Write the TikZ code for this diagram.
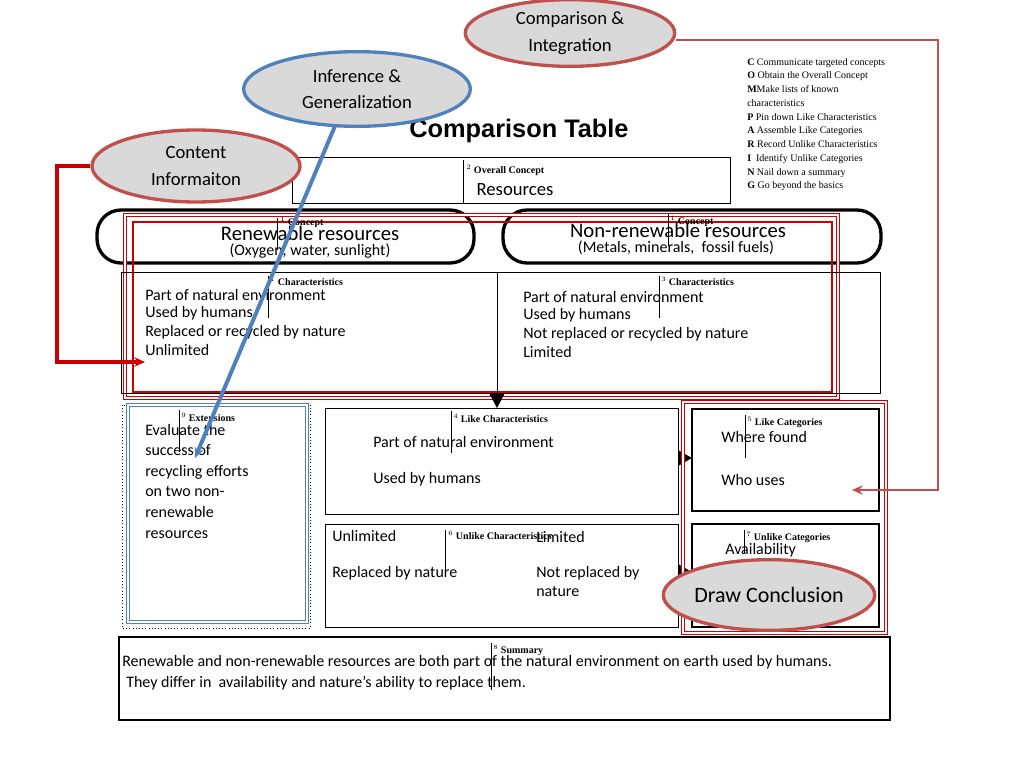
\documentclass[tikz,border=0pt]{standalone}
\usepackage{fontspec}
\setmainfont{Carlito}
\newfontfamily\seriffont{Liberation Serif}
\newfontfamily\arialfont{Liberation Sans}
\usetikzlibrary{positioning,arrows.meta,shapes.geometric}
\definecolor{ovalred}{RGB}{192,80,77}
\definecolor{ovalblue}{RGB}{79,129,189}
\definecolor{ovalgray}{RGB}{217,217,217}
\definecolor{boxred}{RGB}{204,0,0}
\tikzset{
  oval/.style = {ellipse, draw, line width=2.5pt, fill=ovalgray, inner sep=0pt, align=center, font=\fontsize{14}{20}\selectfont},
  body/.style = {font=\fontsize{12}{14}\selectfont, anchor=west, inner sep=0pt},
  tag/.style = {font=\seriffont\fontsize{7.5}{9}\selectfont, anchor=west, inner sep=0pt},
  tick/.style = {thin},
  redframe/.style = {draw=boxred, double=white, double distance=1.5pt, line width=0.8pt},
  arrow/.style = {line width=2pt, -{Stealth[length=8pt,width=7pt]}}
}
\begin{document}
\begin{tikzpicture}[x=0.75pt,y=-0.75pt]
\useasboundingbox (0,0) rectangle (1024,768);
% title and overall concept
\node [font=\arialfont\bfseries\fontsize{19}{22}\selectfont] (title) at (519,131) {Comparison Table};
\draw (292,157) rectangle (730,203);
\draw [tick] (463,160) -- (463,203);
\node [tag] (overall) at (466,170) {$^2$\ \textbf{Overall Concept}};
\node [font=\fontsize{14}{16}\selectfont] (res) at (515,190) {Resources};

% concepts
\draw [line width=2.5pt, rounded corners=18pt] (97,210) rectangle (474,263);
\draw [line width=2.5pt, rounded corners=18pt] (503,210) rectangle (881,263);
\draw [redframe] (125,215) rectangle (838,398);
\draw [draw=boxred, line width=0.8pt] (133,222) rectangle (832,392);
\node [font=\fontsize{15.5}{18}\selectfont] (ren) at (310,233) {Renewable resources};
\node [font=\fontsize{12}{14}\selectfont] (renex) at (310,251) {(Oxygen, water, sunlight)};
\node [font=\fontsize{15.5}{18}\selectfont] (non) at (678,230) {Non-renewable resources};
\node [font=\fontsize{12}{14}\selectfont] (nonex) at (676,248) {(Metals, minerals,\ \ fossil fuels)};
\draw [tick] (277,218) -- (277,250);
\node [tag] (conL) at (280,222) {$^1$\ \textbf{Concept}};
\draw [tick] (668,214) -- (668,246);
\node [tag] (conR) at (670,221) {$^1$\ \textbf{Concept}};

% characteristics
\draw (121,272) rectangle (880,393);
\draw (497,272) -- (497,393);
\draw [tick] (268,276) -- (268,318);
\node [tag] (chL) at (270,281) {$^1$\ \textbf{Characteristics}};
\draw [tick] (659,276) -- (659,318);
\node [tag] (chR) at (661,281) {$^3$\ \textbf{Characteristics}};
\node [body] (l1) at (145,295) {Part of natural environment};
\node [body] (l2) at (145,313) {Used by humans};
\node [body] (l3) at (145,332) {Replaced or recycled by nature};
\node [body] (l4) at (145,350) {Unlimited};
\node [body] (r1) at (523,297) {Part of natural environment};
\node [body] (r2) at (523,315) {Used by humans};
\node [body] (r3) at (523,334) {Not replaced or recycled by nature};
\node [body] (r4) at (523,352) {Limited};
\fill (489,393) -- (505,393) -- (497,408) -- cycle;

% extensions
\draw [dotted] (122,405) rectangle (310,628);
\draw [draw=ovalblue, double=white, double distance=1.5pt, line width=0.8pt] (128,405) rectangle (307,622);
\draw [tick] (179,410) -- (179,452);
\node [tag] (ext) at (181,417) {$^9$\ \textbf{Extensions}};
\node [body, align=left, font=\fontsize{12}{15.4}\selectfont, anchor=north west] (evl) at (145,424)
  {Evaluate\ the\\success of\\recycling efforts\\on two non-\\renewable\\resources};

% like / unlike characteristics
\draw (325,408) rectangle (678,514);
\draw [tick] (451,411) -- (451,453);
\node [tag] (likech) at (453,418) {$^4$\ \textbf{Like Characteristics}};
\node [body] (lk1) at (373,442) {Part of natural environment};
\node [body] (lk2) at (373,479) {Used by humans};
\draw (325,524) rectangle (678,627);
\draw [tick] (445,530) -- (445,570);
\node [body] (u1) at (332,536) {Unlimited};
\node [body] (u3) at (536,537) {Limited};
\node [tag] (unlikech) at (448,535) {$^6$\ \textbf{Unlike Characteristics}};
\node [body] (u2) at (332,573) {Replaced by nature};
\node [body, align=left, anchor=north west] (u4) at (536,566) {Not replaced by\\nature};
\fill (678,450) -- (692,458) -- (678,466) -- cycle;
\fill (678,564) -- (692,572) -- (678,580) -- cycle;

% categories
\draw [redframe] (683,402) rectangle (886,633);
\draw [line width=2pt] (692,409) rectangle (879,511);
\draw [tick] (745,415) -- (745,458);
\node [tag] (likecat) at (747,422) {$^5$\ \textbf{Like Categories}};
\node [body] (c1) at (721,437) {Where found};
\node [body] (c2) at (721,480) {Who uses};
\draw [line width=2pt] (692,524) rectangle (879,627);
\draw [tick] (744,530) -- (744,553);
\node [tag] (unlikecat) at (746,537) {$^7$\ \textbf{Unlike Categories}};
\node [body] (c3) at (725,550) {Availability};

% summary
\draw [line width=2pt] (119,637) rectangle (890,720);
\draw [tick] (491,643) -- (491,690);
\node [tag] (sum) at (493,650) {$^8$\ \textbf{Summary}};
\node [body] (s1) at (122,662) {Renewable and non-renewable resources are both part of the natural environment on earth used by humans.};
\node [body] (s2) at (126,683) {They differ in\ \ availability and nature's ability to replace them.};

% legend
\node [font=\seriffont\fontsize{7.5}{10.3}\selectfont, align=left, anchor=north west, inner sep=0pt] (legend) at (747,58)
  {\textbf{C} Communicate targeted concepts\\
   \textbf{O} Obtain the Overall Concept\\
   \textbf{M}Make lists of known\\
   characteristics\\
   \textbf{P}\ Pin down Like Characteristics\\
   \textbf{A}\ Assemble Like Categories\\
   \textbf{R} Record Unlike Characteristics\\
   \textbf{I}\ \ Identify Unlike Categories\\
   \textbf{N} Nail down a summary\\
   \textbf{G} Go beyond the basics};

% ovals and arrows
\node [oval, draw=ovalred, minimum width=157pt, minimum height=50pt] (integ) at (570,33) {Comparison \&\\Integration};
\node [oval, draw=ovalblue, minimum width=170pt, minimum height=56pt] (infer) at (357,89) {Inference \&\\Generalization};
\node [oval, draw=ovalred, minimum width=156pt, minimum height=54pt] (content) at (196,166) {Content\\Informaiton};
\node [oval, draw=ovalred, minimum width=155pt, minimum height=53pt, font=\fontsize{16.5}{20}\selectfont] (concl) at (769,595) {Draw Conclusion};
\coordinate (catend) at (852,490);
\coordinate (charend) at (145,362);
\coordinate (extend) at (195,458);
\draw [arrow, draw=ovalred] (integ.east |- 0,40) -| (938,40) |- (catend);
\draw [arrow, draw=boxred, line width=2.5pt] (content.west) -| (57,362) -- (charend);
\draw [arrow, draw=ovalblue, line width=3pt] (335,126) -- (extend);
\end{tikzpicture}
\end{document}
